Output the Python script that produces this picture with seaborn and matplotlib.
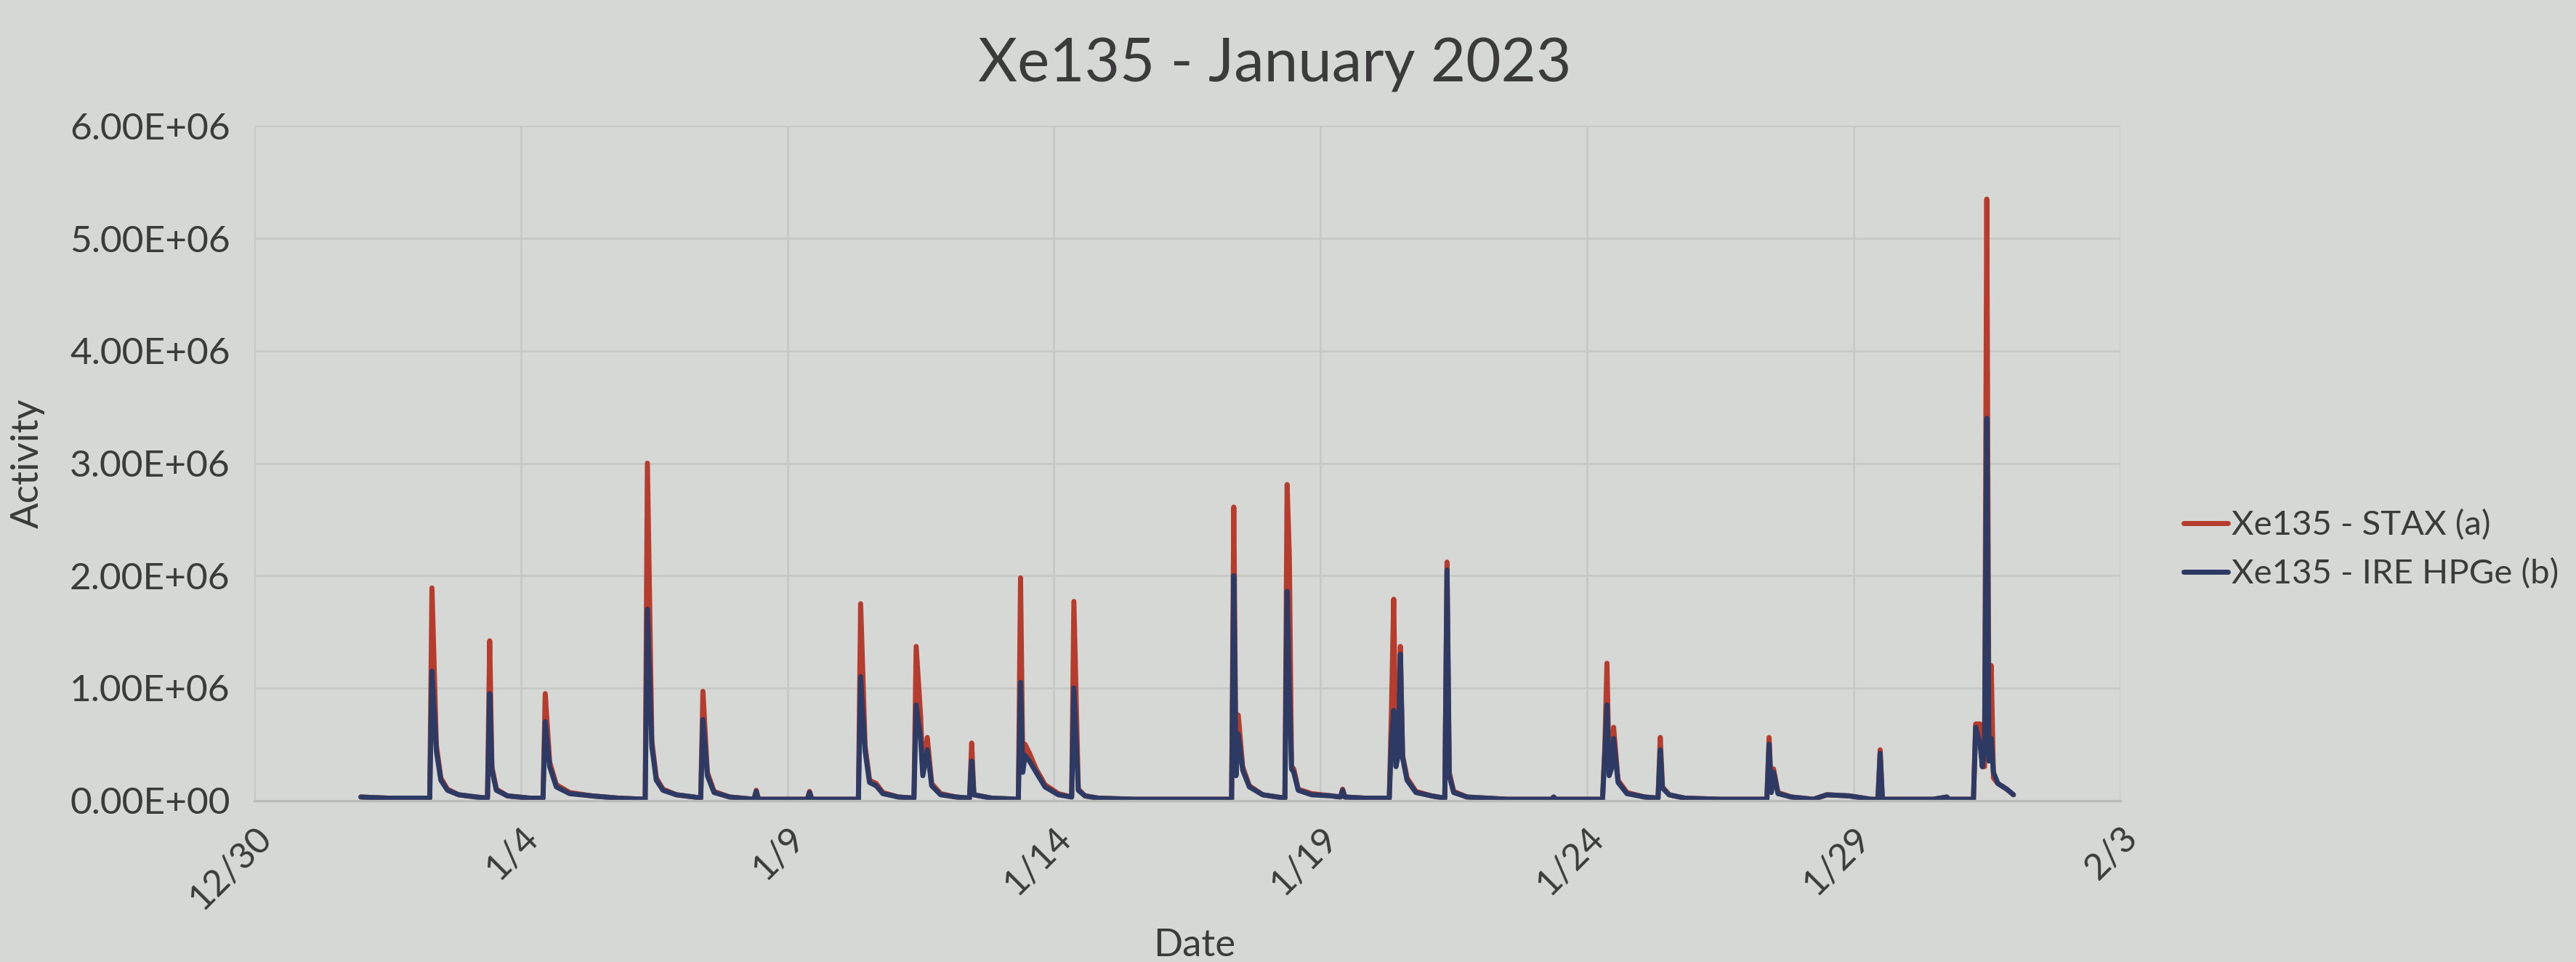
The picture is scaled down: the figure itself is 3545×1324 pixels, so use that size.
import pandas as pd
import seaborn as sns
import matplotlib.pyplot as plt
import matplotlib.dates as mdates
from matplotlib.ticker import FuncFormatter, MultipleLocator

sns.set_theme(style='white')
plt.rcParams['font.family'] = ['Lato', 'DejaVu Sans']

# sample times (2023, "MM-DD HH") and activity readings in units of 1e6
times = [
    '01-01 00', '01-01 12', '01-02 07',
    '01-02 08', '01-02 10', '01-02 12', '01-02 15', '01-02 20', '01-03 04', '01-03 09',
    '01-03 10', '01-03 11', '01-03 13', '01-03 18', '01-04 04', '01-04 10',
    '01-04 11', '01-04 13', '01-04 16', '01-04 22', '01-05 08', '01-05 20', '01-06 08',
    '01-06 09', '01-06 11', '01-06 13', '01-06 16', '01-06 22', '01-07 06', '01-07 09',
    '01-07 10', '01-07 12', '01-07 15', '01-07 22', '01-08 09', '01-08 10', '01-08 11',
    '01-09 09', '01-09 10', '01-09 11', '01-10 08',
    '01-10 09', '01-10 11', '01-10 13', '01-10 16', '01-10 19', '01-11 02', '01-11 09',
    '01-11 10', '01-11 12', '01-11 13', '01-11 15', '01-11 17', '01-11 21', '01-12 04', '01-12 10',
    '01-12 11', '01-12 12', '01-12 20', '01-13 08',
    '01-13 09', '01-13 10', '01-13 11', '01-13 13', '01-13 16', '01-13 20', '01-14 02', '01-14 08',
    '01-14 09', '01-14 11', '01-14 14', '01-14 20', '01-15 12', '01-16 12', '01-17 08',
    '01-17 09', '01-17 10', '01-17 11', '01-17 13', '01-17 16', '01-17 22', '01-18 08',
    '01-18 09', '01-18 10', '01-18 11', '01-18 12', '01-18 14', '01-18 20', '01-19 05',
    '01-19 09', '01-19 10', '01-19 11', '01-19 20', '01-20 07',
    '01-20 08', '01-20 09', '01-20 10', '01-20 11', '01-20 12', '01-20 13', '01-20 15',
    '01-20 19', '01-21 02', '01-21 08',
    '01-21 09', '01-21 10', '01-21 12', '01-21 18', '01-22 12', '01-23 08', '01-23 09',
    '01-23 10', '01-24 07',
    '01-24 08', '01-24 09', '01-24 10', '01-24 11', '01-24 12', '01-24 14', '01-24 18',
    '01-25 02', '01-25 08',
    '01-25 09', '01-25 10', '01-25 13', '01-25 20', '01-26 12', '01-27 09',
    '01-27 10', '01-27 11', '01-27 12', '01-27 14', '01-27 20', '01-28 06', '01-28 12',
    '01-28 22', '01-29 08', '01-29 11',
    '01-29 12', '01-29 13', '01-30 12', '01-30 18', '01-30 19', '01-31 06',
    '01-31 07', '01-31 09', '01-31 10', '01-31 11', '01-31 12', '01-31 13', '01-31 14',
    '01-31 15', '01-31 17', '01-31 21', '02-01 00',
]

stax = [
    0.03, 0.02, 0.02,
    1.89, 0.49, 0.20, 0.10, 0.05, 0.03, 0.02,
    1.42, 0.30, 0.10, 0.04, 0.02, 0.02,
    0.95, 0.34, 0.14, 0.07, 0.04, 0.02, 0.01,
    3.00, 0.53, 0.20, 0.10, 0.05, 0.03, 0.02,
    0.97, 0.25, 0.08, 0.03, 0.01, 0.09, 0.01,
    0.01, 0.08, 0.01, 0.01,
    1.75, 0.49, 0.18, 0.15, 0.07, 0.03, 0.02,
    1.37, 0.75, 0.25, 0.56, 0.15, 0.06, 0.03, 0.02,
    0.51, 0.05, 0.02, 0.01,
    1.98, 0.30, 0.50, 0.42, 0.28, 0.14, 0.06, 0.03,
    1.77, 0.10, 0.04, 0.02, 0.01, 0.01, 0.01,
    2.61, 0.25, 0.76, 0.30, 0.13, 0.05, 0.02,
    2.81, 2.17, 0.30, 0.28, 0.10, 0.06, 0.04,
    0.03, 0.10, 0.03, 0.02, 0.02,
    0.82, 1.79, 0.35, 0.45, 1.37, 0.40, 0.20,
    0.08, 0.04, 0.02,
    2.12, 0.25, 0.08, 0.03, 0.01, 0.01, 0.03,
    0.01, 0.01,
    0.45, 1.22, 0.25, 0.30, 0.65, 0.18, 0.07,
    0.03, 0.02,
    0.56, 0.12, 0.05, 0.02, 0.01, 0.01,
    0.56, 0.08, 0.28, 0.07, 0.03, 0.01, 0.05,
    0.04, 0.01, 0.01,
    0.45, 0.01, 0.01, 0.03, 0.01, 0.01,
    0.68, 0.68, 0.30, 0.30, 5.35, 0.40, 1.20,
    0.20, 0.15, 0.10, 0.05,
]

hpge = [
    0.03, 0.02, 0.02,
    1.15, 0.44, 0.18, 0.09, 0.05, 0.03, 0.02,
    0.95, 0.27, 0.09, 0.04, 0.02, 0.02,
    0.70, 0.30, 0.12, 0.06, 0.04, 0.02, 0.01,
    1.70, 0.48, 0.18, 0.09, 0.05, 0.03, 0.02,
    0.72, 0.22, 0.07, 0.03, 0.01, 0.08, 0.01,
    0.01, 0.07, 0.01, 0.01,
    1.10, 0.44, 0.16, 0.13, 0.06, 0.03, 0.02,
    0.85, 0.55, 0.22, 0.45, 0.13, 0.05, 0.03, 0.02,
    0.35, 0.05, 0.02, 0.01,
    1.05, 0.25, 0.40, 0.35, 0.25, 0.12, 0.05, 0.03,
    1.00, 0.09, 0.04, 0.02, 0.01, 0.01, 0.01,
    2.00, 0.22, 0.59, 0.27, 0.12, 0.05, 0.02,
    1.86, 1.00, 0.28, 0.25, 0.09, 0.05, 0.04,
    0.03, 0.09, 0.03, 0.02, 0.02,
    0.55, 0.80, 0.30, 0.40, 1.30, 0.38, 0.18,
    0.07, 0.04, 0.02,
    2.05, 0.22, 0.07, 0.03, 0.01, 0.01, 0.03,
    0.01, 0.01,
    0.40, 0.85, 0.22, 0.28, 0.55, 0.16, 0.06,
    0.03, 0.02,
    0.45, 0.11, 0.05, 0.02, 0.01, 0.01,
    0.50, 0.07, 0.25, 0.06, 0.03, 0.01, 0.05,
    0.04, 0.01, 0.01,
    0.42, 0.01, 0.01, 0.03, 0.01, 0.01,
    0.65, 0.50, 0.30, 0.45, 3.40, 0.35, 0.55,
    0.25, 0.15, 0.10, 0.05,
]

series_names = ['Xe135 - STAX (a)', 'Xe135 - IRE HPGe (b)']
colors = ['#b63c2e', '#2d3a63']
tick_dates = pd.date_range('2022-12-30', '2023-02-03', freq='5D')

t = pd.to_datetime(['2023-' + s for s in times], format='%Y-%m-%d %H')
df = pd.concat([
    pd.DataFrame({'Date': t, 'Activity': [v * 1e6 for v in stax], 'series': series_names[0]}),
    pd.DataFrame({'Date': t, 'Activity': [v * 1e6 for v in hpge], 'series': series_names[1]}),
])

bg = '#d5d8d4'
txt = '#3b3b3b'

fig = plt.figure(figsize=(17.725, 6.62), dpi=200, facecolor=bg)
ax = fig.add_axes([0.0987, 0.168, 0.7243, 0.701], facecolor=bg)

sns.lineplot(data=df, x='Date', y='Activity', hue='series', hue_order=series_names,
             palette=colors, linewidth=2.5, estimator=None, ax=ax)

ax.set_xlim(tick_dates[0], tick_dates[-1])
ax.set_ylim(0, 6e6)
ax.set_xticks(tick_dates)
ax.xaxis.set_major_formatter(FuncFormatter(
    lambda x, p: f'{mdates.num2date(x).month}/{mdates.num2date(x).day}'))
ax.yaxis.set_major_locator(MultipleLocator(1e6))
ax.yaxis.set_major_formatter(FuncFormatter(lambda y, p: f'{y:.2E}'))

ax.grid(True, color='#c6c9c5', linewidth=1.0)
ax.set_axisbelow(True)
for s in ['top', 'right', 'left']:
    ax.spines[s].set_visible(False)
ax.spines['bottom'].set_color('#b9bcb8')
ax.spines['bottom'].set_linewidth(1.2)
ax.tick_params(axis='y', length=0, labelsize=18.5, labelcolor=txt, pad=12)
ax.tick_params(axis='x', length=0, labelsize=18, labelcolor=txt, pad=10)
plt.setp(ax.get_xticklabels(), rotation=45, ha='right', rotation_mode='anchor')

ax.set_title('Xe135 - January 2023', fontsize=30, color=txt, pad=22, x=0.547)
ax.set_xlabel('Date', fontsize=19, color=txt)
ax.set_ylabel('Activity', fontsize=19, color=txt)
ax.xaxis.set_label_coords(0.504, -0.19)
ax.yaxis.set_label_coords(-0.112, 0.5)

sns.move_legend(ax, loc='center left', bbox_to_anchor=(1.034, 0.372), frameon=False,
                title=None, fontsize=17, handlelength=1.3, handletextpad=0.1,
                labelspacing=0.5, borderaxespad=0, borderpad=0)
for text in ax.get_legend().get_texts():
    text.set_color(txt)

plt.savefig('out.png', dpi=200, facecolor=bg)
